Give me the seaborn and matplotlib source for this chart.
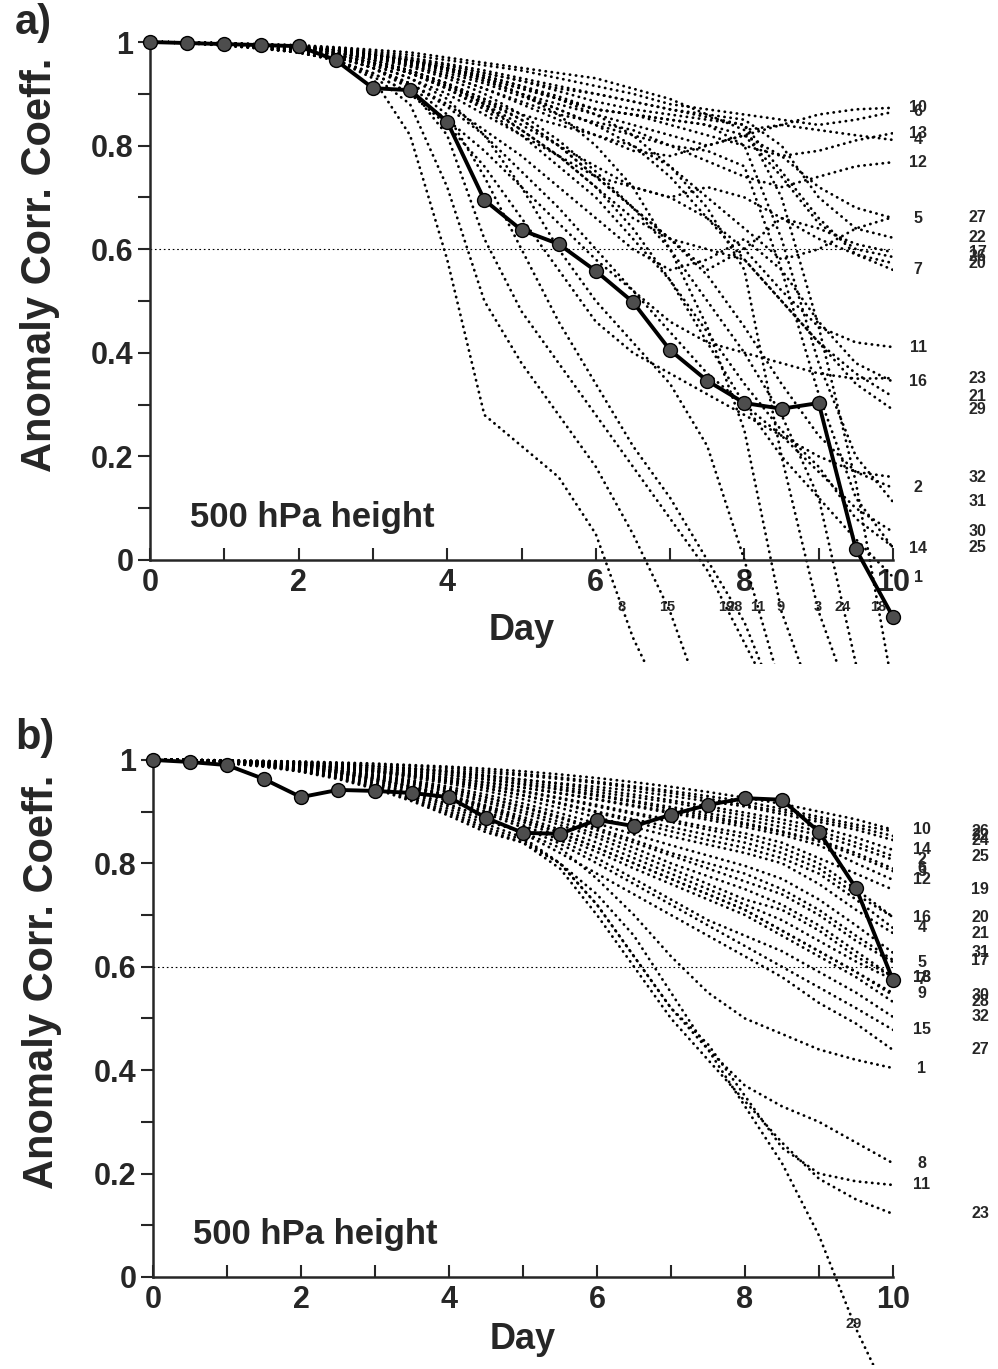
import numpy as np
import pandas as pd
import matplotlib
matplotlib.use("Agg")
import matplotlib.pyplot as plt
import seaborn as sns

days = np.arange(0, 10.5, 0.5)

# control forecast (bold line with dots)
ctrl_a = [1.0, .998, .996, .994, .992, .965, .911, .907, .846, .695, .637,
          .61, .558, .498, .405, .346, .303, .292, .303, .021, -.11]
ctrl_b = [1.0, .996, .99, .963, .928, .942, .94, .936, .928, .888, .859,
          .857, .884, .872, .894, .913, .926, .923, .861, .752, .574]

# panel a ensemble members, ACC every half day from day 0 to 10
a_labels = ["10", "6", "13", "4", "12", "5", "27", "22", "17", "26", "20", "7",
            "11", "16", "23", "21", "29", "32", "2", "31", "30", "25", "14", "1",
            "8", "15", "19", "28", "11", "9", "3", "24", "18"]
a_cols = ["in", "in", "in", "in", "in", "in", "out", "out", "out", "out", "out", "in",
          "in", "in", "out", "out", "out", "out", "in", "out", "out", "out", "in", "in",
          "bot", "bot", "bot", "bot", "bot", "bot", "bot", "bot", "bot"]
a_acc = [
    [1, .999, .998, .996, .994, .99, .985, .98, .97, .96, .95, .94, .93, .91, .89, .86, .83, .84, .86, .87, .873],
    [1, .999, .997, .995, .992, .988, .982, .975, .965, .955, .945, .93, .915, .90, .88, .87, .86, .85, .84, .85, .865],
    [1, .999, .997, .995, .99, .985, .975, .965, .95, .93, .91, .89, .87, .86, .84, .82, .80, .78, .79, .81, .824],
    [1, .999, .997, .994, .99, .985, .975, .96, .945, .925, .90, .88, .86, .84, .82, .80, .82, .84, .83, .82, .811],
    [1, .999, .996, .993, .99, .983, .972, .955, .935, .91, .885, .86, .845, .83, .80, .77, .74, .72, .74, .76, .768],
    [1, .999, .996, .993, .988, .98, .97, .955, .935, .91, .88, .85, .82, .79, .78, .80, .82, .78, .72, .68, .66],
    [1, .998, .996, .992, .988, .98, .965, .945, .92, .89, .86, .84, .82, .80, .76, .70, .64, .58, .60, .64, .662],
    [1, .999, .997, .994, .99, .985, .975, .965, .955, .94, .925, .91, .90, .885, .87, .86, .85, .80, .70, .64, .622],
    [1, .999, .996, .992, .987, .978, .96, .94, .915, .885, .85, .80, .74, .68, .62, .56, .60, .66, .64, .61, .594],
    [1, .999, .997, .994, .99, .984, .975, .962, .948, .93, .91, .89, .87, .86, .85, .84, .82, .74, .65, .60, .585],
    [1, .998, .995, .99, .985, .975, .96, .94, .915, .88, .84, .80, .76, .72, .70, .72, .70, .66, .62, .59, .573],
    [1, .999, .997, .995, .991, .986, .978, .968, .955, .94, .925, .905, .885, .87, .86, .85, .84, .75, .66, .59, .56],
    [1, .998, .995, .99, .985, .975, .955, .93, .90, .86, .82, .78, .74, .72, .70, .66, .60, .52, .45, .42, .411],
    [1, .998, .995, .99, .984, .972, .95, .92, .88, .83, .78, .72, .66, .60, .56, .58, .62, .56, .46, .38, .344],
    [1, .998, .994, .988, .98, .965, .94, .90, .85, .79, .72, .65, .58, .52, .46, .42, .40, .38, .36, .35, .351],
    [1, .999, .996, .993, .988, .98, .965, .945, .92, .88, .83, .78, .72, .66, .62, .60, .58, .50, .42, .36, .315],
    [1, .999, .997, .994, .99, .983, .972, .958, .94, .92, .895, .87, .84, .80, .74, .66, .58, .50, .42, .34, .29],
    [1, .998, .994, .988, .98, .965, .94, .90, .84, .76, .66, .56, .46, .40, .36, .32, .28, .24, .20, .17, .16],
    [1, .999, .996, .993, .988, .98, .965, .945, .92, .89, .85, .80, .74, .68, .62, .55, .45, .34, .24, .17, .139],
    [1, .999, .997, .994, .99, .985, .976, .965, .95, .935, .915, .895, .87, .86, .85, .84, .80, .62, .38, .20, .112],
    [1, .998, .995, .99, .984, .972, .95, .92, .875, .82, .75, .68, .60, .52, .44, .36, .30, .24, .17, .10, .054],
    [1, .999, .996, .992, .986, .976, .96, .94, .91, .87, .82, .76, .70, .62, .54, .44, .34, .25, .18, .08, .025],
    [1, .999, .997, .994, .99, .984, .975, .963, .945, .925, .90, .87, .84, .82, .80, .79, .76, .56, .32, .12, .023],
    [1, .998, .995, .991, .985, .975, .96, .94, .91, .875, .83, .78, .72, .64, .54, .42, .30, .20, .12, .04, -.033],
    [1, .998, .993, .987, .98, .965, .93, .82, .58, .28, .22, .16, .05, -.15, -.3, -.3, -.3, -.3, -.3, -.3, -.3],
    [1, .998, .994, .988, .98, .965, .935, .88, .72, .50, .38, .28, .18, .05, -.10, -.3, -.3, -.3, -.3, -.3, -.3],
    [1, .998, .995, .99, .983, .97, .95, .91, .82, .62, .48, .38, .28, .18, .08, -.02, -.16, -.3, -.3, -.3, -.3],
    [1, .998, .995, .99, .984, .972, .95, .915, .86, .74, .60, .46, .34, .22, .12, .0, -.12, -.3, -.3, -.3, -.3],
    [1, .999, .996, .992, .986, .976, .958, .93, .89, .82, .72, .60, .50, .42, .34, .22, .0, -.25, -.3, -.3, -.3],
    [1, .999, .997, .994, .99, .985, .976, .965, .95, .93, .90, .86, .80, .72, .60, .45, .25, -.10, -.3, -.3, -.3],
    [1, .999, .997, .995, .992, .985, .975, .96, .95, .935, .915, .89, .86, .82, .76, .68, .56, .20, -.10, -.3, -.3],
    [1, .999, .996, .993, .99, .98, .968, .952, .93, .90, .86, .81, .75, .68, .60, .50, .40, .28, .12, -.20, -.3],
    [1, .999, .998, .995, .993, .988, .98, .97, .958, .945, .93, .915, .90, .885, .87, .855, .84, .70, .45, .15, -.25],
]

# panel b ensemble members
b_labels = ["10", "26", "22", "24", "14", "25", "2", "6", "3", "12", "19", "16",
            "20", "4", "21", "31", "17", "5", "13", "18", "7", "9", "28", "30",
            "32", "15", "27", "1", "8", "11", "23", "29"]
b_cols = ["in", "out", "out", "out", "in", "out", "in", "in", "in", "in", "out", "in",
          "out", "in", "out", "out", "out", "in", "in", "in", "in", "in", "out", "out",
          "out", "in", "out", "in", "in", "in", "out", "bot"]
b_acc = [
    [1, 1, .999, .998, .997, .995, .993, .99, .987, .983, .978, .972, .965, .957, .948, .938, .927, .915, .90, .885, .865],
    [1, 1, .999, .998, .996, .994, .991, .988, .984, .979, .973, .966, .958, .949, .94, .93, .92, .905, .89, .875, .862],
    [1, 1, .999, .997, .995, .992, .988, .984, .98, .975, .97, .963, .955, .946, .936, .925, .913, .90, .885, .87, .853],
    [1, 1, .998, .997, .995, .992, .988, .983, .977, .97, .962, .955, .948, .94, .93, .92, .91, .895, .88, .865, .845],
    [1, 1, .999, .997, .995, .992, .988, .983, .977, .97, .962, .953, .943, .933, .922, .91, .898, .885, .87, .85, .826],
    [1, 1, .998, .996, .993, .99, .985, .98, .974, .967, .958, .948, .938, .928, .918, .905, .892, .878, .862, .84, .814],
    [1, 1, .998, .996, .993, .989, .984, .978, .971, .963, .954, .944, .933, .921, .909, .897, .885, .87, .855, .832, .807],
    [1, 1, .998, .996, .992, .988, .983, .977, .97, .962, .952, .942, .93, .918, .905, .892, .878, .862, .845, .82, .79],
    [1, 1, .998, .995, .992, .987, .981, .974, .966, .957, .947, .936, .924, .912, .90, .888, .875, .86, .842, .815, .785],
    [1, 1, .998, .995, .991, .986, .98, .973, .965, .956, .946, .935, .923, .91, .897, .884, .87, .855, .835, .80, .768],
    [1, 1, .998, .995, .991, .986, .979, .971, .962, .952, .94, .927, .913, .898, .884, .87, .858, .84, .81, .78, .749],
    [1, 1, .997, .994, .99, .984, .977, .968, .958, .946, .932, .917, .90, .885, .87, .855, .84, .82, .79, .74, .696],
    [1, 1, .997, .994, .99, .985, .978, .97, .96, .95, .938, .925, .91, .895, .88, .865, .85, .83, .80, .75, .696],
    [1, 1, .997, .994, .99, .984, .977, .968, .957, .945, .931, .915, .898, .88, .862, .845, .83, .81, .78, .73, .675],
    [1, 1, .997, .994, .989, .983, .975, .965, .954, .94, .924, .907, .889, .87, .852, .836, .82, .80, .76, .71, .665],
    [1, 1, .997, .993, .988, .981, .972, .961, .948, .933, .916, .897, .877, .856, .835, .815, .795, .77, .73, .68, .627],
    [1, 1, .997, .993, .988, .98, .97, .958, .944, .928, .91, .89, .868, .845, .82, .80, .78, .75, .71, .66, .613],
    [1, 1, .997, .993, .987, .98, .97, .958, .944, .927, .908, .887, .864, .84, .815, .79, .765, .74, .70, .65, .609],
    [1, 1, .997, .993, .987, .979, .968, .955, .94, .922, .902, .88, .856, .83, .80, .775, .75, .72, .68, .63, .58],
    [1, 1, .996, .992, .986, .978, .967, .953, .937, .918, .897, .874, .85, .82, .79, .76, .73, .71, .67, .62, .58],
    [1, 1, .996, .992, .986, .977, .965, .95, .932, .912, .89, .865, .84, .81, .78, .75, .72, .69, .65, .61, .575],
    [1, 1, .996, .992, .985, .976, .964, .948, .93, .908, .884, .858, .83, .80, .77, .74, .71, .67, .63, .59, .549],
    [1, 1, .996, .991, .984, .975, .962, .946, .927, .905, .88, .852, .822, .79, .76, .73, .70, .66, .62, .58, .532],
    [1, 1, .996, .991, .984, .975, .963, .948, .93, .91, .885, .86, .83, .80, .77, .74, .71, .67, .63, .59, .545],
    [1, 1, .996, .991, .984, .974, .96, .943, .923, .90, .874, .845, .81, .77, .73, .69, .66, .63, .59, .55, .503],
    [1, 1, .995, .99, .983, .973, .959, .941, .92, .896, .869, .838, .80, .76, .72, .68, .64, .60, .56, .52, .478],
    [1, 1, .995, .99, .982, .971, .956, .937, .914, .888, .858, .82, .78, .74, .70, .66, .62, .58, .53, .49, .439],
    [1, 1, .995, .989, .981, .97, .954, .934, .91, .882, .86, .83, .77, .70, .62, .55, .50, .47, .44, .42, .404],
    [1, 1, .995, .989, .98, .968, .951, .93, .905, .876, .85, .80, .72, .62, .52, .44, .37, .33, .30, .26, .22],
    [1, 1, .995, .988, .979, .966, .948, .926, .90, .87, .845, .80, .72, .62, .52, .45, .35, .25, .20, .185, .178],
    [1, 1, .994, .987, .978, .965, .946, .923, .896, .865, .84, .79, .70, .60, .50, .42, .34, .26, .19, .15, .122],
    [1, 1, .994, .987, .977, .963, .944, .92, .892, .86, .84, .80, .74, .66, .55, .44, .33, .22, .08, -.10, -.25],
]

sns.set_style("ticks")
plt.rcParams["font.family"] = ["Liberation Sans", "DejaVu Sans"]
plt.rcParams["font.weight"] = "bold"
plt.rcParams["axes.labelweight"] = "bold"


def first_crossing(vals, level=-0.09):
    v = np.asarray(vals, dtype=float)
    i = int(np.argmax(v < level))
    return days[i - 1] + (days[i] - days[i - 1]) * (v[i - 1] - level) / (v[i - 1] - v[i])


def draw_panel(ax, acc, labels, cols, ctrl, ylo, x_in, x_out, ylab_xy, xlab_y):
    df = pd.DataFrame([(k, d, v) for k, row in enumerate(acc) for d, v in zip(days, row)],
                      columns=["member", "day", "acc"])
    ax.axhline(0.6, color="black", lw=0.8, ls=(0, (1.5, 2.5)), zorder=1)
    sns.lineplot(data=df, x="day", y="acc", units="member", estimator=None,
                 color="black", lw=2.0, linestyle=(0, (0.1, 2.1)),
                 dash_capstyle="round", legend=False, ax=ax)
    sns.lineplot(x=days, y=ctrl, color="black", lw=2.8, marker="o", markersize=10,
                 markerfacecolor="#4d4d4d", markeredgecolor="black", markeredgewidth=1,
                 clip_on=False, ax=ax, zorder=5)

    for lab, col, row in zip(labels, cols, acc):
        if col == "bot":
            ax.text(first_crossing(row), -0.09, lab, fontsize=10.5, ha="center", va="center")
        else:
            ax.text(x_in if col == "in" else x_out, row[-1], lab, fontsize=11.5,
                    ha="center", va="center", clip_on=False)

    ax.set_xlim(0, 10)
    ax.set_ylim(ylo, 1.005)
    for s in ["top", "right"]:
        ax.spines[s].set_visible(False)
    ax.spines["bottom"].set_position(("data", 0))
    ax.spines["left"].set_bounds(0, 1)
    for s in ["bottom", "left"]:
        ax.spines[s].set_linewidth(1.8)
    ax.set_xticks(range(0, 11, 2))
    ax.set_xticks(range(1, 10, 2), minor=True)
    ax.set_yticks([0, .2, .4, .6, .8, 1])
    ax.set_yticklabels(["0", "0.2", "0.4", "0.6", "0.8", "1"])
    ax.set_yticks(np.arange(0.1, 1.0, 0.2), minor=True)
    ax.tick_params(axis="x", which="both", direction="in", length=9, width=1.5, pad=6, labelsize=22)
    ax.tick_params(axis="y", which="both", direction="out", length=9, width=1.5, pad=3, labelsize=22)
    ax.set_ylabel("Anomaly Corr. Coeff.", fontsize=30)
    ax.yaxis.set_label_coords(*ylab_xy)
    ax.set_xlabel("Day", fontsize=26)
    ax.xaxis.set_label_coords(0.5, xlab_y)
    ax.text(0.54, 0.082, "500 hPa height", fontsize=25, ha="left", va="center")


fig = plt.figure(figsize=(9.98, 13.69), dpi=100)
ax_a = fig.add_axes([0.1503, 0.5153, 0.7445, 0.4559])
ax_b = fig.add_axes([0.1533, 0.0030, 0.7415, 0.4438])

draw_panel(ax_a, a_acc, a_labels, a_cols, ctrl_a, -0.2, 10.34, 11.14, (-0.121, 0.639), 0.081)
draw_panel(ax_b, b_acc, b_labels, b_cols, ctrl_b, -0.17, 10.39, 11.18, (-0.123, 0.63), 0.071)

fig.text(0.015, 0.998, "a)", fontsize=30, va="top", ha="left")
fig.text(0.015, 1 - 718 / 1369, "b)", fontsize=30, va="top", ha="left")

fig.savefig("out.png", dpi=100)
